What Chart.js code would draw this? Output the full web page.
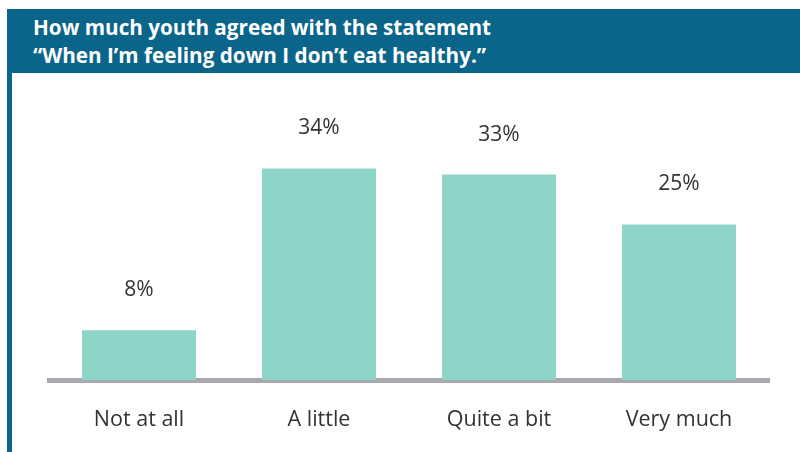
<!DOCTYPE html>
<html>
<head>
<meta charset="utf-8">
<script src="https://cdn.jsdelivr.net/npm/chart.js@4/dist/chart.umd.min.js"></script>
<style>
  body { margin: 0; background: #fff; }
  #wrap { position: relative; width: 800px; height: 452px; overflow: hidden; }
  #band {
    position: absolute; left: 7px; top: 9px; right: 0; height: 64px;
    background: #0b6489; color: #fff;
    font: bold 20.7px "Open Sans", sans-serif; line-height: 28px;
    padding: 4px 0 0 26px; box-sizing: border-box;
  }
  #edge { position: absolute; left: 7px; top: 9px; width: 5px; bottom: 0; background: #0b6489; }
  canvas { position: absolute; left: 0; top: 0; }
</style>
</head>
<body>
<div id="wrap">
  <div id="edge"></div>
  <div id="band">How much youth agreed with the statement<br>“When I’m feeling down I don’t eat healthy.”</div>
  <canvas id="canvas" width="800" height="452"></canvas>
</div>
<script>
  var categories = ['Not at all', 'A little', 'Quite a bit', 'Very much'];
  var percents = [8, 34, 33, 25];

  // writes "NN%" above each bar
  var valueLabels = {
    id: 'valueLabels',
    afterDatasetsDraw: function(chart) {
      var ctx = chart.ctx;
      var meta = chart.getDatasetMeta(0);
      ctx.save();
      ctx.font = '21px "Open Sans", sans-serif';
      ctx.fillStyle = '#333333';
      ctx.textAlign = 'center';
      ctx.textBaseline = 'middle';
      meta.data.forEach(function(bar, i) {
        ctx.fillText(percents[i] + '%', bar.x, bar.y - 40);
      });
      ctx.restore();
    }
  };

  var config = {
    type: 'bar',
    data: {
      labels: categories,
      datasets: [{
        data: percents,
        backgroundColor: '#8dd5c9',
        borderWidth: 0,
        categoryPercentage: 1,
        barPercentage: 0.633
      }]
    },
    options: {
      responsive: false,
      animation: false,
      layout: { padding: { left: 49, right: 31, top: 131, bottom: -8 } },
      plugins: {
        legend: { display: false },
        tooltip: { enabled: false }
      },
      scales: {
        y: { display: false, min: 0, max: 40 },
        x: {
          grid: { display: false, drawTicks: false },
          border: { display: true, color: '#a7a9ac', width: 5 },
          ticks: {
            padding: 27,
            color: '#333333',
            font: { family: 'Open Sans', size: 21.5 }
          }
        }
      }
    },
    plugins: [valueLabels]
  };

  window.onload = function() {
    window.myBar = new Chart(document.getElementById('canvas'), config);
  };
</script>
</body>
</html>
